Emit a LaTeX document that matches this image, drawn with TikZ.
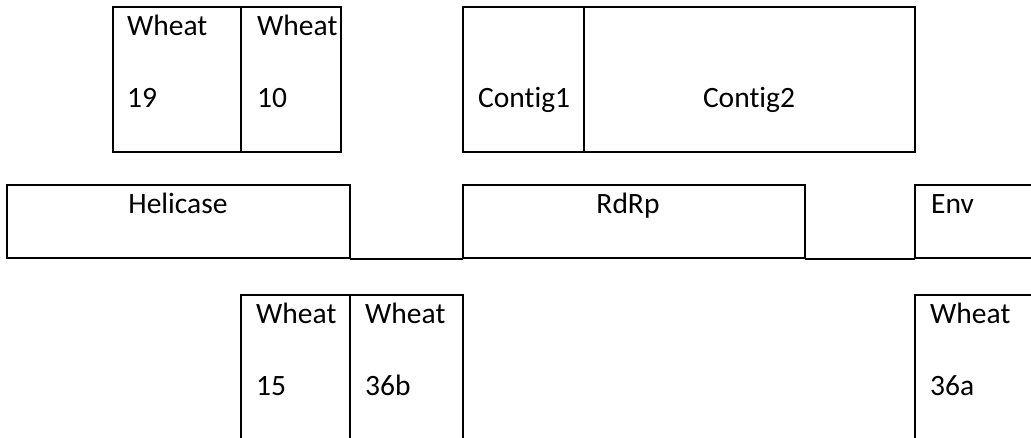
\documentclass[tikz,border=0pt]{standalone}
\usepackage{fontspec}
\setmainfont{Carlito}[Ligatures={NoCommon,NoRare,NoContextual}]
\usetikzlibrary{calc}
\newcommand{\nolig}{\kern0pt }
\begin{document}
\begin{tikzpicture}[x=1pt,y=-1pt,
  box/.style={draw, line width=2pt, inner sep=0pt, outer sep=0pt, anchor=north west},
  gapline/.style={line width=2pt},
  lbl/.style={anchor=base west, inner sep=0pt, font=\fontsize{29.5}{29.5}\selectfont},
  clbl/.style={anchor=base, inner sep=0pt, font=\fontsize{29.5}{29.5}\selectfont}]
\useasboundingbox (0,0) rectangle (1031,437);
\clip (0,0) rectangle (1031,437);
% top-left group
\node[box, minimum width=128pt, minimum height=145pt] (w19) at (113,7) {};
\node[box, minimum width=100pt, minimum height=145pt] (w10) at (241,7) {};
% top-right group
\node[box, minimum width=121pt, minimum height=145pt] (c1) at (463,7) {};
\node[box, minimum width=331pt, minimum height=145pt] (c2) at (584,7) {};
% middle row
\node[box, minimum width=343pt, minimum height=73pt] (hel) at (7,185) {};
\node[box, minimum width=342pt, minimum height=73pt] (rdrp) at (463,185) {};
\node[box, minimum width=130pt, minimum height=73pt] (env) at (915,185) {};
\draw[gapline] ($(hel.south east)+(0,1)$) -- ($(rdrp.south west)+(0,1)$);
\draw[gapline] ($(rdrp.south east)+(0,1)$) -- ($(env.south west)+(0,1)$);
% bottom row
\node[box, minimum width=109pt, minimum height=160pt] (w15) at (241,295) {};
\node[box, minimum width=113pt, minimum height=160pt] (w36b) at (350,295) {};
\node[box, minimum width=130pt, minimum height=160pt] (w36a) at (915,295) {};
% labels
\node[lbl] (t19a) at (127,35) {Wheat};
\node[lbl] (t19b) at (127,107) {19};
\node[lbl] (t10a) at (257,35) {Wheat};
\node[lbl] (t10b) at (257,107) {10};
\node[lbl] (tc1) at (478,107) {Cont\nolig ig1};
\node[clbl] (tc2) at (749,107) {Cont\nolig ig2};
\node[clbl] (thel) at (178,213) {Helicase};
\node[clbl] (trdrp) at (628,213) {RdRp};
\node[lbl] (tenv) at (931,213) {Env};
\node[lbl] (t15a) at (256,323) {Wheat};
\node[lbl] (t15b) at (256,395) {15};
\node[lbl] (t36ba) at (365,323) {Wheat};
\node[lbl] (t36bb) at (365,395) {36b};
\node[lbl] (t36aa) at (930,323) {Wheat};
\node[lbl] (t36ab) at (930,395) {36a};
\end{tikzpicture}
\end{document}
